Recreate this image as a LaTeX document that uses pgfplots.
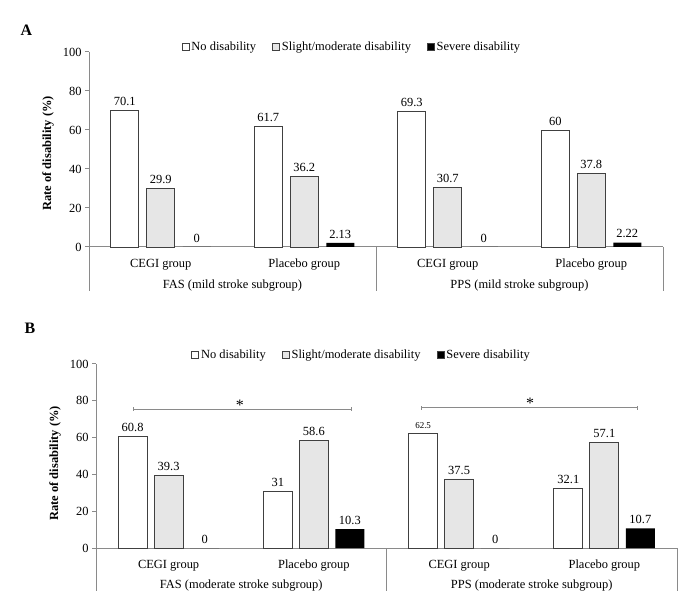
\documentclass[border=0pt]{standalone}
\usepackage{pgfplots}
\pgfplotsset{compat=1.18}
\usepackage{fontspec}
\setmainfont{Liberation Serif}
\definecolor{axgray}{HTML}{8A8A8A}
\definecolor{edge}{HTML}{404040}
\definecolor{lgray}{HTML}{E6E6E6}
\protected\def\sm#1{{\fontsize{9}{10}\selectfont #1}}
\newcommand{\fs}{\fontsize{12.5}{14}\selectfont}

\pgfplotsset{
 mylegimg/.style={legend image code/.code={\draw[##1, draw=edge, line width=0.8bp] (0bp,-3.5bp) rectangle (7bp,3.5bp);}},
 mybars/.style={
  scale only axis, clip=false,
  ybar=8bp, bar width=28bp,
  ymin=0, ymax=100, xmin=-0.5, xmax=3.5,
  ytick={0,20,...,100},
  xtick={0,1,2,3},
  xticklabels={CEGI group, Placebo group, CEGI group, Placebo group},
  axis lines*=left,
  axis line style={draw=axgray, line width=1bp},
  y tick style={draw=axgray, line width=1bp},
  major tick length=4bp, tick align=outside,
  x tick style={draw=none},
  tick label style={font=\fs},
  /pgf/number format/assume math mode=true,
  xticklabel style={anchor=center, yshift=-14bp},
  point meta=explicit symbolic,
  nodes near coords,
  every node near coord/.append style={font=\fs, color=black, yshift=1bp},
  legend style={draw=none, fill=none, legend columns=3, font=\fs,
    /tikz/every even column/.append style={column sep=14bp}},
  legend cell align=left,
  ylabel={Rate of disability (\%)},
  ylabel style={font=\bfseries\fs, anchor=center},
 },
 wbar/.style={fill=white, draw=edge, line width=0.9bp},
 gbar/.style={fill=lgray, draw=edge, line width=0.9bp},
 kbar/.style={fill=black, draw=none},
}

\begin{document}
\begin{tikzpicture}
\useasboundingbox (0,0) rectangle (696bp,606bp);

\node[font=\bfseries\fontsize{16}{18}\selectfont] at (26.5bp,576bp) {A};
\node[font=\bfseries\fontsize{16}{18}\selectfont] at (30bp,277.5bp) {B};

% Panel A
\begin{axis}[mybars, mylegimg, at={(89bp,359bp)}, anchor=south west,
  width=574bp, height=195bp,
  ylabel style={at={(axis description cs:-0.0714,0.48)}},
  legend style={at={(0.458,1.026)}, anchor=center}]
\addplot[wbar] coordinates {(0,70.1)[70.1] (1,61.7)[61.7] (2,69.3)[69.3] (3,60)[60]};
\addplot[gbar] coordinates {(0,29.9)[29.9] (1,36.2)[36.2] (2,30.7)[30.7] (3,37.8)[37.8]};
\addplot[kbar] coordinates {(0,0)[0] (1,2.13)[2.13] (2,0)[0] (3,2.22)[2.22]};
\legend{No disability, Slight/moderate disability, Severe disability}
\draw[axgray, line width=1bp] (axis cs:-0.5,0) -- ([yshift=-44bp]axis cs:-0.5,0);
\draw[axgray, line width=1bp] (axis cs:1.5,0) -- ([yshift=-44bp]axis cs:1.5,0);
\draw[axgray, line width=1bp] (axis cs:3.5,0) -- ([yshift=-44bp]axis cs:3.5,0);
\node[font=\fs, yshift=-39bp] at (axis cs:0.5,0) {FAS (mild stroke subgroup)};
\node[font=\fs, yshift=-39bp] at (axis cs:2.5,0) {PPS (mild stroke subgroup)};
\end{axis}

% Panel B
\begin{axis}[mybars, at={(96bp,58bp)}, anchor=south west,
  width=581bp, height=184bp, bar width=29bp, ybar=7bp, mylegimg,
  ylabel style={at={(axis description cs:-0.0706,0.46)}},
  legend style={at={(0.457,1.049)}, anchor=center}]
\addplot[wbar] coordinates {(0,60.8)[60.8] (1,31)[31] (2,62.5)[\sm{62.5}] (3,32.1)[32.1]};
\addplot[gbar] coordinates {(0,39.3)[39.3] (1,58.6)[58.6] (2,37.5)[37.5] (3,57.1)[57.1]};
\addplot[kbar] coordinates {(0,0)[0] (1,10.3)[10.3] (2,0)[0] (3,10.7)[10.7]};
\legend{No disability, Slight/moderate disability, Severe disability}
\draw[axgray, line width=1bp] (axis cs:-0.5,0) -- ([yshift=-43bp]axis cs:-0.5,0);
\draw[axgray, line width=1bp] (axis cs:1.5,0) -- ([yshift=-43bp]axis cs:1.5,0);
\draw[axgray, line width=1bp] (axis cs:3.5,0) -- ([yshift=-43bp]axis cs:3.5,0);
\node[font=\fs, yshift=-38bp] at (axis cs:0.5,0) {FAS (moderate stroke subgroup)};
\node[font=\fs, yshift=-38bp] at (axis cs:2.5,0) {PPS (moderate stroke subgroup)};
% significance brackets
\draw[axgray, line width=1bp] (axis cs:-0.24,75.5) -- (axis cs:1.26,75.5);
\draw[axgray, line width=1bp] ([yshift=-1.8bp]axis cs:-0.24,75.5) -- ([yshift=1.8bp]axis cs:-0.24,75.5);
\draw[axgray, line width=1bp] ([yshift=-1.8bp]axis cs:1.26,75.5) -- ([yshift=1.8bp]axis cs:1.26,75.5);
\node[font=\fontsize{16}{18}\selectfont, anchor=base, inner sep=0pt, yshift=-1bp] at (axis cs:0.49,75.5) {*};
\draw[axgray, line width=1bp] (axis cs:1.744,76.1) -- (axis cs:3.23,76.1);
\draw[axgray, line width=1bp] ([yshift=-1.8bp]axis cs:1.744,76.1) -- ([yshift=1.8bp]axis cs:1.744,76.1);
\draw[axgray, line width=1bp] ([yshift=-1.8bp]axis cs:3.23,76.1) -- ([yshift=1.8bp]axis cs:3.23,76.1);
\node[font=\fontsize{16}{18}\selectfont, anchor=base, inner sep=0pt, yshift=-1bp] at (axis cs:2.488,76.1) {*};
\end{axis}
\end{tikzpicture}
\end{document}
